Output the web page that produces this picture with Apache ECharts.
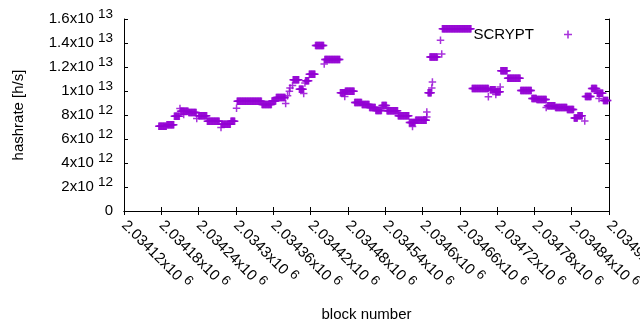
<!DOCTYPE html>
<html>
<head>
<meta charset="utf-8">
<script src="https://cdn.jsdelivr.net/npm/echarts@6/dist/echarts.min.js"></script>
<style>
    html, body { margin: 0; padding: 0; background: #fff; }
    #chart1 { width: 640px; height: 330px; }
</style>
</head>
<body>
<div id="chart1"></div>
<script>
// runs of blocks with the same hashrate (first block, last block, rate)
var runFirst = [2034176, 2034189, 2034201, 2034210, 2034211, 2034216, 2034224, 2034237, 2034240, 2034254,
    2034276, 2034277, 2034292, 2034301, 2034302, 2034342, 2034358, 2034365, 2034380, 2034383,
    2034386, 2034387, 2034391, 2034392, 2034402, 2034409, 2034411, 2034412, 2034418, 2034428,
    2034442, 2034443, 2034468, 2034475, 2034476, 2034491, 2034503, 2034515, 2034525, 2034535,
    2034543, 2034561, 2034579, 2034584, 2034589, 2034607, 2034607, 2034609, 2034615, 2034616,
    2034612, 2034629, 2034631, 2034632, 2034680, 2034706, 2034709, 2034718, 2034718, 2034725,
    2034726, 2034737, 2034758, 2034776, 2034784, 2034799, 2034801, 2034814, 2034833, 2034844,
    2034850, 2034861, 2034862, 2034872, 2034881, 2034884, 2034891];
var runLast = [2034188, 2034200, 2034209, 2034210, 2034223, 2034216, 2034236, 2034237, 2034253, 2034273,
    2034276, 2034291, 2034298, 2034301, 2034341, 2034357, 2034364, 2034379, 2034380, 2034383,
    2034386, 2034387, 2034391, 2034401, 2034408, 2034409, 2034411, 2034417, 2034427, 2034441,
    2034442, 2034467, 2034475, 2034475, 2034490, 2034502, 2034514, 2034524, 2034534, 2034542,
    2034560, 2034578, 2034588, 2034584, 2034606, 2034607, 2034607, 2034614, 2034615, 2034616,
    2034624, 2034629, 2034631, 2034678, 2034706, 2034706, 2034717, 2034725, 2034718, 2034725,
    2034736, 2034757, 2034775, 2034783, 2034799, 2034799, 2034813, 2034832, 2034843, 2034849,
    2034857, 2034861, 2034871, 2034880, 2034890, 2034884, 2034898];
var runRate = [7.06e12, 7.19e12, 7.89e12, 8.54e12, 8.31e12, 8.04e12, 8.21e12, 7.71e12, 7.94e12, 7.47e12,
    6.96e12, 7.22e12, 7.47e12, 8.56e12, 9.14e12, 8.88e12, 9.17e12, 9.45e12, 8.96e12, 9.6e12,
    9.98e12, 10.25e12, 10.46e12, 10.94e12, 10.14e12, 9.79e12, 10.67e12, 10.85e12, 11.39e12, 13.79e12,
    12.25e12, 12.63e12, 9.86e12, 9.54e12, 9.98e12, 9.04e12, 8.88e12, 8.63e12, 8.38e12, 8.79e12,
    8.36e12, 7.94e12, 7.38e12, 7.04e12, 7.56e12, 7.83e12, 8.25e12, 9.86e12, 10.25e12, 10.75e12,
    12.83e12, 14.22e12, 13.08e12, 15.19e12, 10.21e12, 9.53e12, 10.11e12, 9.94e12, 9.71e12, 10.33e12,
    11.69e12, 11.06e12, 10.04e12, 9.38e12, 9.29e12, 8.63e12, 8.78e12, 8.63e12, 8.46e12, 7.75e12,
    7.94e12, 7.5e12, 9.54e12, 10.21e12, 9.81e12, 9.38e12, 9.21e12];

var blockMin = 2034120, blockMax = 2034900, blockStep = 60;
var rateMin = 0, rateMax = 1.6e13, rateStep = 2e12;

// one point per block
var points = [];
for (var i = 0; i < runFirst.length; i++) {
    for (var b = runFirst[i]; b <= runLast[i]; b++) {
        points.push([b, runRate[i]]);
    }
}

var plus = 'path://M0,3.2H3.2V0H4.8V3.2H8V4.8H4.8V8H3.2V4.8H0Z';
var font = 'Liberation Sans, Arial, sans-serif';

// gnuplot style "mantissa x10 exponent" labels
function sciLabel(v) {
    if (v === 0) return '0';
    var e = Math.floor(Math.log10(Math.abs(v)) + 1e-9);
    var m = parseFloat((v / Math.pow(10, e)).toPrecision(8));
    return '{b|' + m + 'x10 }{s|' + e + '}';
}
var rich = {
    b: { fontSize: 15, lineHeight: 23, fontFamily: font, color: '#000' },
    s: { fontSize: 13.5, lineHeight: 13, verticalAlign: 'top', fontFamily: font, color: '#000' }
};

var myChart1 = echarts.init(document.getElementById('chart1'));
var option = {
    animation: false,
    grid: { left: 124, right: 31, top: 19, bottom: 119, outerBoundsMode: 'none', containLabel: false },
    legend: {
        data: ['SCRYPT'],
        right: 63,
        top: 22,
        align: 'right',
        icon: plus,
        itemWidth: 58,
        itemHeight: 8,
        textStyle: { fontSize: 15, fontFamily: font, color: '#000' }
    },
    xAxis: [
        {
            type: 'value',
            min: blockMin, max: blockMax, interval: blockStep,
            name: 'block number',
            nameLocation: 'middle',
            nameGap: 96,
            nameTextStyle: { fontSize: 15, fontFamily: font, color: '#000' },
            axisLine: { lineStyle: { color: '#000', width: 1 } },
            axisTick: { inside: true, length: 4, lineStyle: { color: '#000' } },
            axisLabel: { rotate: -45, margin: 12, formatter: sciLabel, rich: rich },
            splitLine: { show: false }
        },
        {
            type: 'value', position: 'top',
            min: blockMin, max: blockMax, interval: blockStep,
            axisLine: { lineStyle: { color: '#000', width: 1 } },
            axisTick: { inside: true, length: 4, lineStyle: { color: '#000' } },
            axisLabel: { show: false },
            splitLine: { show: false }
        }
    ],
    yAxis: [
        {
            type: 'value',
            min: rateMin, max: rateMax, interval: rateStep,
            name: 'hashrate [h/s]',
            nameLocation: 'middle',
            nameRotate: 90,
            nameGap: 98,
            nameTextStyle: { fontSize: 15, fontFamily: font, color: '#000' },
            axisLine: { show: true, lineStyle: { color: '#000', width: 1 } },
            axisTick: { show: true, inside: true, length: 4, lineStyle: { color: '#000' } },
            axisLabel: { margin: 11, formatter: sciLabel, rich: rich, fontSize: 15, fontFamily: font, color: '#000' },
            splitLine: { show: false }
        },
        {
            type: 'value', position: 'right',
            min: rateMin, max: rateMax, interval: rateStep,
            axisLine: { show: true, lineStyle: { color: '#000', width: 1 } },
            axisTick: { show: true, inside: true, length: 4, lineStyle: { color: '#000' } },
            axisLabel: { show: false },
            splitLine: { show: false }
        }
    ],
    series: [
        {
            name: 'SCRYPT',
            type: 'scatter',
            symbol: plus,
            symbolSize: 7.5,
            itemStyle: { color: '#9400d3' },
            data: points
        }
    ]
};
myChart1.setOption(option);
</script>
</body>
</html>
